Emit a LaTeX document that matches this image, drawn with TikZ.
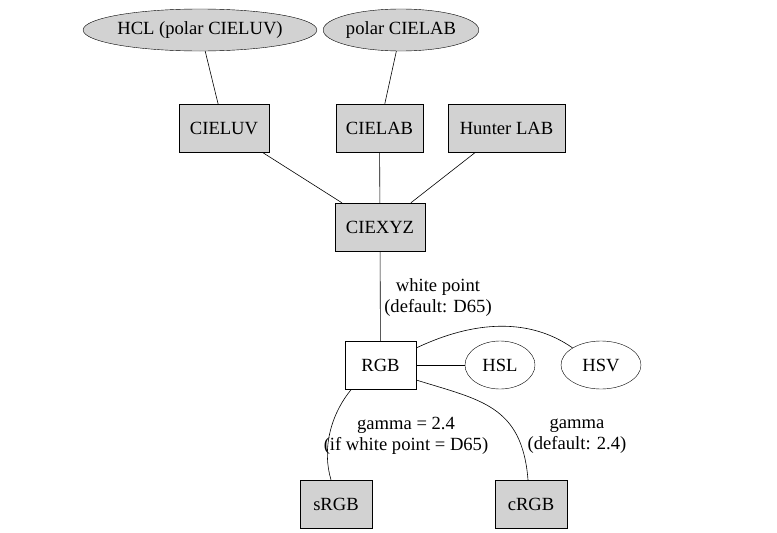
\documentclass[tikz,border=0pt]{standalone}
\usepackage{fontspec}
\setmainfont{Liberation Serif}
\usetikzlibrary{shapes.geometric}
\tikzset{
  base/.style={font=\fontsize{18.6}{21}\selectfont, inner sep=0pt},
  gbox/.style={base, draw, fill=gray!35, minimum height=48pt},
  wbox/.style={base, draw, fill=white, minimum height=48pt, minimum width=71pt},
  gell/.style={base, draw, fill=gray!35, ellipse, minimum height=42pt},
  well/.style={base, draw, ellipse, minimum height=48pt},
  lbl/.style={base, align=center},
  edge/.style={draw, line width=0.6pt}
}
\begin{document}
\begin{tikzpicture}[x=1pt,y=-1pt]
\useasboundingbox[fill=white] (0,0) rectangle (777,533);
\node[gell, minimum width=197pt] (hcl) at (200,30) {HCL (polar CIELUV)};
\node[gell, minimum width=147pt] (plab) at (401,30) {polar CIELAB};
\node[gbox, minimum width=90pt] (cieluv) at (224,128) {CIELUV};
\node[gbox, minimum width=87pt] (cielab) at (379.5,128) {CIELAB};
\node[gbox, minimum width=117pt] (hunter) at (506.5,128) {Hunter LAB};
\node[gbox, minimum width=90pt] (ciexyz) at (380,227) {CIEXYZ};
\node[wbox] (rgb) at (380.5,365) {RGB};
\node[well, minimum width=70pt] (hsl) at (500,365) {HSL};
\node[well, minimum width=80pt] (hsv) at (601,365) {HSV};
\node[gbox, minimum width=72pt] (srgb) at (336,504) {sRGB};
\node[gbox, minimum width=72pt] (crgb) at (531,504) {cRGB};
\node[lbl] (l1) at (438,298) {white point\\(default: D65)};
\node[lbl] (l2) at (406,436) {gamma = 2.4\\(if white point = D65)};
\node[lbl] (l3) at (577,436) {gamma\\(default: 2.4)};
\draw[edge] (hcl) -- (cieluv);
\draw[edge] (plab) -- (cielab);
\draw[edge] (cieluv) -- (ciexyz);
\draw[edge] (cielab) -- (ciexyz);
\draw[edge] (hunter) -- (ciexyz);
\draw[edge] (ciexyz) -- (rgb);
\draw[edge] (rgb) -- (hsl);
\draw[edge] ([yshift=17pt]rgb.east) .. controls (475,320) and (530,318) .. (hsv.north west);
\draw[edge] ([xshift=-29pt]rgb.south) .. controls (330,415) and (322,450) .. ([xshift=-5pt]srgb.north);
\draw[edge] ([yshift=-15pt]rgb.east) .. controls (480,400) and (522,405) .. ([xshift=-3pt]crgb.north);
\end{tikzpicture}
\end{document}
